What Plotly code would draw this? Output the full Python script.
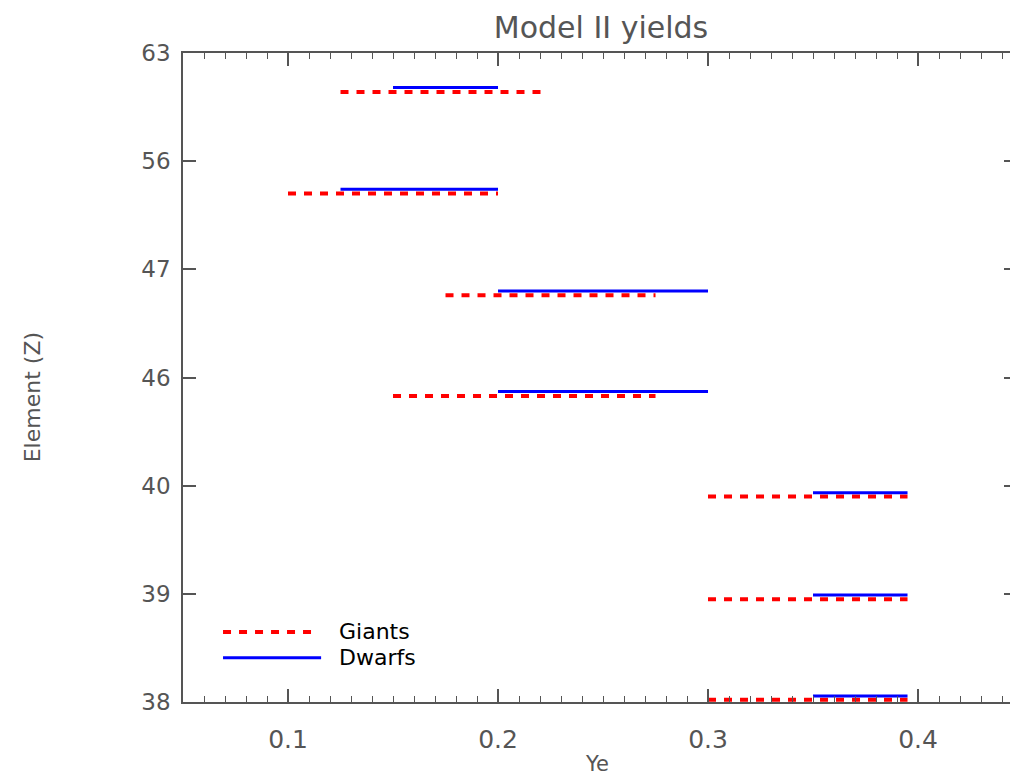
import plotly.graph_objects as go

# ---- data ----
elements = ["38", "39", "40", "46", "47", "56", "63"]          # y tick labels (bottom -> top)
element_index = [0, 1, 2, 3, 4, 5, 6]
x_ticks = [0.1, 0.2, 0.3, 0.4]
x_tick_labels = ["0.1", "0.2", "0.3", "0.4"]

# Giants (red dashed): Ye ranges and vertical positions on the element axis
giant_start = [0.300, 0.300, 0.300, 0.150, 0.175, 0.100, 0.125]
giant_end   = [0.395, 0.395, 0.395, 0.275, 0.275, 0.200, 0.222]
giant_y     = [0.02, 0.95, 1.90, 2.83, 3.76, 4.70, 5.64]

# Dwarfs (blue solid)
dwarf_start = [0.350, 0.350, 0.350, 0.200, 0.200, 0.125, 0.150]
dwarf_end   = [0.395, 0.395, 0.395, 0.300, 0.300, 0.200, 0.200]
dwarf_y     = [0.055, 0.99, 1.935, 2.87, 3.80, 4.74, 5.68]

series_names = ["Giants", "Dwarfs"]


def segs(starts, ends, ys):
    xs, yy = [], []
    for a, b, y in zip(starts, ends, ys):
        xs += [a, b, None]
        yy += [y, y, None]
    return xs, yy


AX = "#555555"
FONT = "DejaVu Sans"
RED_DASH = "8px,8px"

fig = go.Figure()
gx, gy = segs(giant_start, giant_end, giant_y)
dx, dy = segs(dwarf_start, dwarf_end, dwarf_y)
fig.add_trace(go.Scatter(x=gx, y=gy, mode="lines", name=series_names[0],
                         line=dict(color="#ff0000", width=4, dash=RED_DASH),
                         showlegend=False, hoverinfo="skip"))
fig.add_trace(go.Scatter(x=dx, y=dy, mode="lines", name=series_names[1],
                         line=dict(color="#0000ff", width=3),
                         showlegend=False, hoverinfo="skip"))
# invisible trace so the right-hand tick axis is built
fig.add_trace(go.Scatter(x=[None], y=[None], yaxis="y2", mode="lines",
                         showlegend=False, hoverinfo="skip"))

# manual legend (long line samples as in the reference)
L_X0, L_X1R, L_X1B, L_TX = 0.0484, 0.157, 0.167, 0.186
L_YR, L_YB = 0.108, 0.068
fig.add_shape(type="line", xref="paper", yref="paper", x0=L_X0, x1=L_X1R, y0=L_YR, y1=L_YR,
              line=dict(color="#ff0000", width=4, dash=RED_DASH))
fig.add_shape(type="line", xref="paper", yref="paper", x0=L_X0, x1=L_X1B, y0=L_YB, y1=L_YB,
              line=dict(color="#0000ff", width=3))
for name, yy in zip(series_names, [L_YR, L_YB]):
    fig.add_annotation(xref="paper", yref="paper", x=L_TX, y=yy, text=name, showarrow=False,
                       xanchor="left", yanchor="middle",
                       font=dict(family=FONT, size=22, color="#000000"))

# axis titles
fig.add_annotation(xref="paper", yref="paper", x=0.5, y=-0.096, text="Ye", showarrow=False,
                   xanchor="center", yanchor="middle",
                   font=dict(family=FONT, size=21, color=AX))
fig.add_annotation(xref="paper", yref="paper", x=-0.181, y=0.47, text="Element (Z)",
                   showarrow=False, textangle=-90, xanchor="center", yanchor="middle",
                   font=dict(family=FONT, size=22, color=AX))

fig.update_layout(
    width=1010, height=778,
    margin=dict(l=183, r=0, t=53, b=76),
    paper_bgcolor="white", plot_bgcolor="white",
    title=dict(text="Model II yields", x=601 / 1010, xanchor="center",
               y=1 - 27 / 778, yanchor="middle", yref="container",
               font=dict(family=FONT, size=30, color=AX)),
    showlegend=False,
    xaxis=dict(
        range=[0.05, 0.4438], tickmode="array", tickvals=x_ticks, ticktext=x_tick_labels,
        showgrid=False, zeroline=False, showline=True, linecolor=AX, linewidth=1.5,
        mirror="ticks", ticks="inside", ticklen=13, tickwidth=1.5, tickcolor=AX,
        tickfont=dict(family=FONT, size=25, color=AX), ticklabelstandoff=14,
        minor=dict(dtick=0.01, tick0=0, ticks="inside", ticklen=6, tickwidth=1,
                   tickcolor=AX, showgrid=False),
    ),
    yaxis=dict(
        range=[0, 6], tickmode="array", tickvals=element_index, ticktext=elements,
        showgrid=False, zeroline=False, showline=True, linecolor=AX, linewidth=1.5,
        mirror=False, ticks="inside", ticklen=13, tickwidth=1.5, tickcolor=AX,
        tickfont=dict(family=FONT, size=23, color=AX), ticklabelstandoff=6,
    ),
    yaxis2=dict(overlaying="y", side="right", anchor="x", range=[0, 6],
                tickmode="array", tickvals=element_index, showticklabels=False,
                ticks="inside", ticklen=6, tickwidth=1.5, tickcolor=AX,
                showline=False, showgrid=False, zeroline=False),
)

fig.write_html("out.html")
